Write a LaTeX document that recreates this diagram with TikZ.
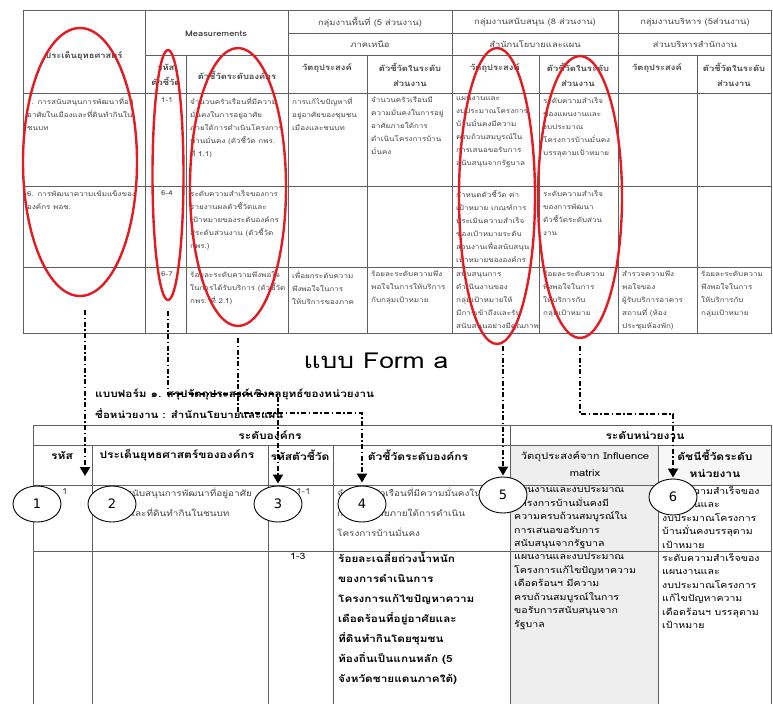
\documentclass[tikz,border=0pt]{standalone}
\usepackage{fontspec}
\setmainfont[Script=Thai, FakeStretch=1.2]{Loma}
\newfontfamily\numfont{DejaVu Sans}
\usepackage{tikz}
\usetikzlibrary{
  shapes.geometric,
  arrows.meta,
  positioning
}
\definecolor{MarkRed}{RGB}{226, 28, 34}
\definecolor{GridGray}{RGB}{95, 95, 95}
\definecolor{ShadeGray}{RGB}{238, 238, 238}
\definecolor{InkGray}{RGB}{70, 70, 70}
\tikzset{
  grid line/.style={draw=GridGray, line width=0.9pt},
  small head/.style={inner sep=0pt, align=center, font=\fontsize{7.8}{15}\selectfont\bfseries, text=InkGray},
  small cell/.style={anchor=north west, inner sep=0pt, align=left, font=\fontsize{6.7}{13}\selectfont, text=InkGray},
  big head/.style={inner sep=0pt, align=center, font=\fontsize{10}{17}\selectfont\bfseries},
  big cell/.style={anchor=north west, inner sep=0pt, align=left, font=\fontsize{8.8}{13.5}\selectfont},
  red ring/.style={ellipse, draw=MarkRed, line width=2.4pt, inner sep=0pt},
  num ring/.style={ellipse, draw=black, fill=white, line width=0.9pt, minimum width=48pt, minimum height=36pt, inner sep=0pt, font=\numfont\fontsize{13}{13}\selectfont},
  link line/.style={draw=black, line width=1.8pt, dash pattern=on 5pt off 2.5pt on 1.5pt off 2.5pt},
  link arrow/.style={link line, -{Triangle[width=10pt,length=9pt]}}
}

\begin{document}
\begin{tikzpicture}[x=1pt, y=-1pt]
\useasboundingbox (0,0) rectangle (773,704);

% upper table: strategy / measurements / work groups
\draw[grid line] (23,10) rectangle (771,333);
\draw[grid line] (288,33) -- (771,33);
\draw[grid line] (145,55) -- (771,55);
\foreach \yy in {93,186,267} \draw[grid line] (23,\yy) -- (771,\yy);
\foreach \xx in {145,288,452,618} \draw[grid line] (\xx,10) -- (\xx,333);
\foreach \xx in {186,367,539,697} \draw[grid line] (\xx,55) -- (\xx,333);

\node[small head] (hIssue) at (84,56) {ประเด็นยุทธศาสตร์};
\node[small head] (hMeasure) at (216,34) {Measurements};
\node[small head] (hCode) at (166,75) {รหัส\\ตัวชี้วัด};
\node[small head] (hOrgKpi) at (237,75) {ตัวชี้วัดระดับองค์กร};
\node[small head, font=\fontsize{7.8}{15}\selectfont] (hAreaGrp) at (370,22) {กลุ่มงานพื้นที่ (5 ส่วนงาน)};
\node[small head, font=\fontsize{7.8}{15}\selectfont] (hNorth) at (370,44) {ภาคเหนือ};
\node[small head] (hObjA) at (327,68) {วัตถุประสงค์};
\node[small head] (hKpiA) at (410,75) {ตัวชี้วัดในระดับ\\ส่วนงาน};
\node[small head, font=\fontsize{7.8}{15}\selectfont] (hSupGrp) at (535,22) {กลุ่มงานสนับสนุน (8 ส่วนงาน)};
\node[small head, font=\fontsize{7.8}{15}\selectfont] (hPlan) at (535,44) {สำนักนโยบายและแผน};
\node[small head] (hObjB) at (495,68) {วัตถุประสงค์};
\node[small head] (hKpiB) at (578,75) {ตัวชี้วัดในระดับ\\ส่วนงาน};
\node[small head, font=\fontsize{7.8}{15}\selectfont] (hAdmGrp) at (695,22) {กลุ่มงานบริหาร (5ส่วนงาน)};
\node[small head, font=\fontsize{7.8}{15}\selectfont] (hOffice) at (695,44) {ส่วนบริหารสำนักงาน};
\node[small head] (hObjC) at (657,68) {วัตถุประสงค์};
\node[small head] (hKpiC) at (734,75) {ตัวชี้วัดในระดับ\\ส่วนงาน};

\node[small cell] (uIssue1) at (27,97) {1. การสนับสนุนการพัฒนาที่อยู่\\อาศัยในเมืองและที่ดินทำกินใน\\ชนบท};
\node[small cell] (uCode1) at (161,97) {1-1};
\node[small cell] (uKpi1) at (190,97) {จำนวนครัวเรือนที่มีความ\\มั่นคงในการอยู่อาศัย\\ภายใต้การดำเนินโครงการ\\บ้านมั่นคง (ตัวชี้วัด กพร.\\ที่ 1.1)};
\node[small cell] (uObjA1) at (292,97) {การแก้ไขปัญหาที่\\อยู่อาศัยของชุมชน\\เมืองและชนบท};
\node[small cell] (uKpiA1) at (371,97) {จำนวนครัวเรือนมี\\ความมั่นคงในการอยู่\\อาศัยภายใต้การ\\ดำเนินโครงการบ้าน\\มั่นคง};
\node[small cell] (uObjB1) at (456,97) {แผนงานและ\\งบประมาณโครงการ\\บ้านมั่นคงมีความ\\ครบถ้วนสมบูรณ์ใน\\การเสนอขอรับการ\\สนับสนุนจากรัฐบาล};
\node[small cell] (uKpiB1) at (543,97) {ระดับความสำเร็จ\\ของแผนงานและ\\งบประมาณ\\โครงการบ้านมั่นคง\\บรรลุตามเป้าหมาย};

\node[small cell] (uIssue2) at (27,190) {6. การพัฒนาความเข้มแข็งของ\\องค์กร พอช.};
\node[small cell] (uCode2) at (161,190) {6-4};
\node[small cell] (uKpi2) at (190,190) {ระดับความสำเร็จของการ\\รายงานผลตัวชี้วัดและ\\เป้าหมายของระดับองค์กร\\สู่ระดับส่วนงาน (ตัวชี้วัด\\กพร.)};
\node[small cell] (uObjB2) at (456,190) {กำหนดตัวชี้วัด ค่า\\เป้าหมาย เกณฑ์การ\\ประเมินความสำเร็จ\\ของเป้าหมายระดับ\\ส่วนงานเพื่อสนับสนุน\\เป้าหมายขององค์กร};
\node[small cell] (uKpiB2) at (543,190) {ระดับความสำเร็จ\\ของการพัฒนา\\ตัวชี้วัดระดับส่วน\\งาน};

\node[small cell] (uCode3) at (161,271) {6-7};
\node[small cell] (uKpi3) at (190,271) {ร้อยละระดับความพึงพอใจ\\ในการได้รับบริการ (ตัวชี้วัด\\กพร. ที่ 2.1)};
\node[small cell] (uObjA3) at (292,271) {เพื่อยกระดับความ\\พึงพอใจในการ\\ให้บริการของภาค};
\node[small cell] (uKpiA3) at (371,271) {ร้อยละระดับความพึง\\พอใจในการให้บริการ\\กับกลุ่มเป้าหมาย};
\node[small cell] (uObjB3) at (456,271) {สนับสนุนการ\\ดำเนินงานของ\\กลุ่มเป้าหมายให้\\มีการเข้าถึงและรับ\\สนับสนุนอย่างมีคุณภาพ};
\node[small cell] (uKpiB3) at (543,271) {ร้อยละระดับความ\\พึงพอใจในการ\\ให้บริการกับ\\กลุ่มเป้าหมาย};
\node[small cell] (uObjC3) at (622,271) {สำรวจความพึง\\พอใจของ\\ผู้รับบริการอาคาร\\สถานที่ (ห้อง\\ประชุมห้องพัก)};
\node[small cell] (uKpiC3) at (701,271) {ร้อยละระดับความ\\พึงพอใจในการ\\ให้บริการกับ\\กลุ่มเป้าหมาย};

% red marks on the upper table
\node[red ring, minimum width=114pt, minimum height=268pt] (e1) at (80,162) {};
\node[red ring, minimum width=31pt, minimum height=250pt] (e2) at (168,175) {};
\node[red ring, minimum width=96pt, minimum height=278pt] (e3) at (238,187) {};
\node[red ring, minimum width=76pt, minimum height=296pt] (e4) at (497,196) {};
\node[red ring, minimum width=84pt, minimum height=282pt] (e5) at (580,197) {};

% form title and caption
\node[inner sep=0pt, font=\fontsize{22}{22}\selectfont] (title) at (376,361) {แบบ Form a};
\node[anchor=west, inner sep=0pt, font=\fontsize{9.8}{11}\selectfont\bfseries] (formName) at (95,394) {แบบฟอร์ม ๑. สรุปวัตถุประสงค์เชิงกลยุทธ์ของหน่วยงาน};
\node[anchor=west, inner sep=0pt, font=\fontsize{9.6}{11}\selectfont\bfseries] (unitName) at (95,414) {ชื่อหน่วยงาน : สำนักนโยบายและแผน};

% lower table
\fill[ShadeGray] (510,445) rectangle (658,704);
\fill[ShadeGray!50] (658,445) rectangle (771,485);
\draw[grid line] (33,704) -- (33,425) -- (771,425) -- (771,704);
\foreach \yy in {445,485,551} \draw[grid line] (33,\yy) -- (771,\yy);
\foreach \xx in {92,268,333,658} \draw[grid line] (\xx,445) -- (\xx,704);
\draw[grid line] (510,425) -- (510,704);

\node[big head] (lOrg) at (270,435) {ระดับองค์กร};
\node[big head] (lUnit) at (645,435) {ระดับหน่วยงาน};
\node[big head] (lCode) at (62,455) {รหัส};
\node[big head] (lIssue) at (177,455) {ประเด็นยุทธศาสตร์ขององค์กร};
\node[big head] (lKpiCode) at (300,455) {รหัสตัวชี้วัด};
\node[big head] (lOrgKpi) at (418,455) {ตัวชี้วัดระดับองค์กร};
\node[big head, font=\fontsize{9.3}{17}\selectfont] (lObj) at (585,464) {วัตถุประสงค์จาก Influence\\matrix};
\node[big head] (lUnitKpi) at (715,464) {ดัชนีชี้วัดระดับ\\หน่วยงาน};

\node[big cell, font=\fontsize{8.3}{20}\selectfont, text=InkGray] (lCode1) at (62,488) {1};
\node[big cell, font=\fontsize{8.3}{20}\selectfont, text=InkGray] (lIssue1) at (96,488) {1. การสนับสนุนการพัฒนาที่อยู่อาศัย\\ในเมืองและที่ดินทำกินในชนบท};
\node[big cell, font=\fontsize{8.3}{20}\selectfont, text=InkGray] (lKpiCode1) at (296,488) {1-1};
\node[big cell, font=\fontsize{8.3}{20}\selectfont, text=InkGray] (lOrgKpi1) at (337,488) {จำนวนครัวเรือนที่มีความมั่นคงใน\\การอยู่อาศัยภายใต้การดำเนิน\\โครงการบ้านมั่นคง};
\node[big cell] (lObj1) at (514,486) {แผนงานและงบประมาณ\\โครงการบ้านมั่นคงมี\\ความครบถ้วนสมบูรณ์ใน\\การเสนอขอรับการ\\สนับสนุนจากรัฐบาล};
\node[big cell] (lUnitKpi1) at (662,486) {ระดับความสำเร็จของ\\แผนงานและ\\งบประมาณโครงการ\\บ้านมั่นคงบรรลุตาม\\เป้าหมาย};

\node[big cell] (lKpiCode2) at (290,553) {1-3};
\node[big cell, font=\fontsize{9.8}{20}\selectfont\bfseries] (lOrgKpi2) at (338,552) {ร้อยละเฉลี่ยถ่วงน้ำหนัก\\ของการดำเนินการ\\โครงการแก้ไขปัญหาความ\\เดือดร้อนที่อยู่อาศัยและ\\ที่ดินทำกินโดยชุมชน\\ท้องถิ่นเป็นแกนหลัก (5\\จังหวัดชายแดนภาคใต้)};
\node[big cell] (lObj2) at (514,553) {แผนงานและงบประมาณ\\โครงการแก้ไขปัญหาความ\\เดือดร้อนฯ มีความ\\ครบถ้วนสมบูรณ์ในการ\\ขอรับการสนับสนุนจาก\\รัฐบาล};
\node[big cell] (lUnitKpi2) at (662,553) {ระดับความสำเร็จของ\\แผนงานและ\\งบประมาณโครงการ\\แก้ไขปัญหาความ\\เดือดร้อนฯ บรรลุตาม\\เป้าหมาย};

% numbered markers
\node[num ring] (n1) at (37,504) {1};
\node[num ring] (n2) at (112,504) {2};
\node[num ring] (n3) at (278,504) {3};
\node[num ring] (n4) at (362,504) {4};
\node[num ring] (n5) at (503,495) {5};
\node[num ring] (n6) at (673,497) {6};

% links from the marked columns down to the form
\coordinate (a1s) at (85,310);
\coordinate (a1e) at (85,476);
\draw[link arrow] (a1s) -- (a1e);
\draw[link arrow] ([yshift=-10pt]e2.south) -- ++(0,83) -| ([yshift=2pt]n3.north);
\draw[link arrow] ([yshift=-11pt]e3.south) -- ++(0,75) -| ([yshift=3pt]n4.north);
\coordinate (a4s) at (503,346);
\draw[link arrow] (a4s) -- ([yshift=1pt]n5.north);
\draw[link arrow] ([yshift=-7pt]e5.south) -- ++(0,68) -| ([yshift=1pt]n6.north);
\end{tikzpicture}
\end{document}
